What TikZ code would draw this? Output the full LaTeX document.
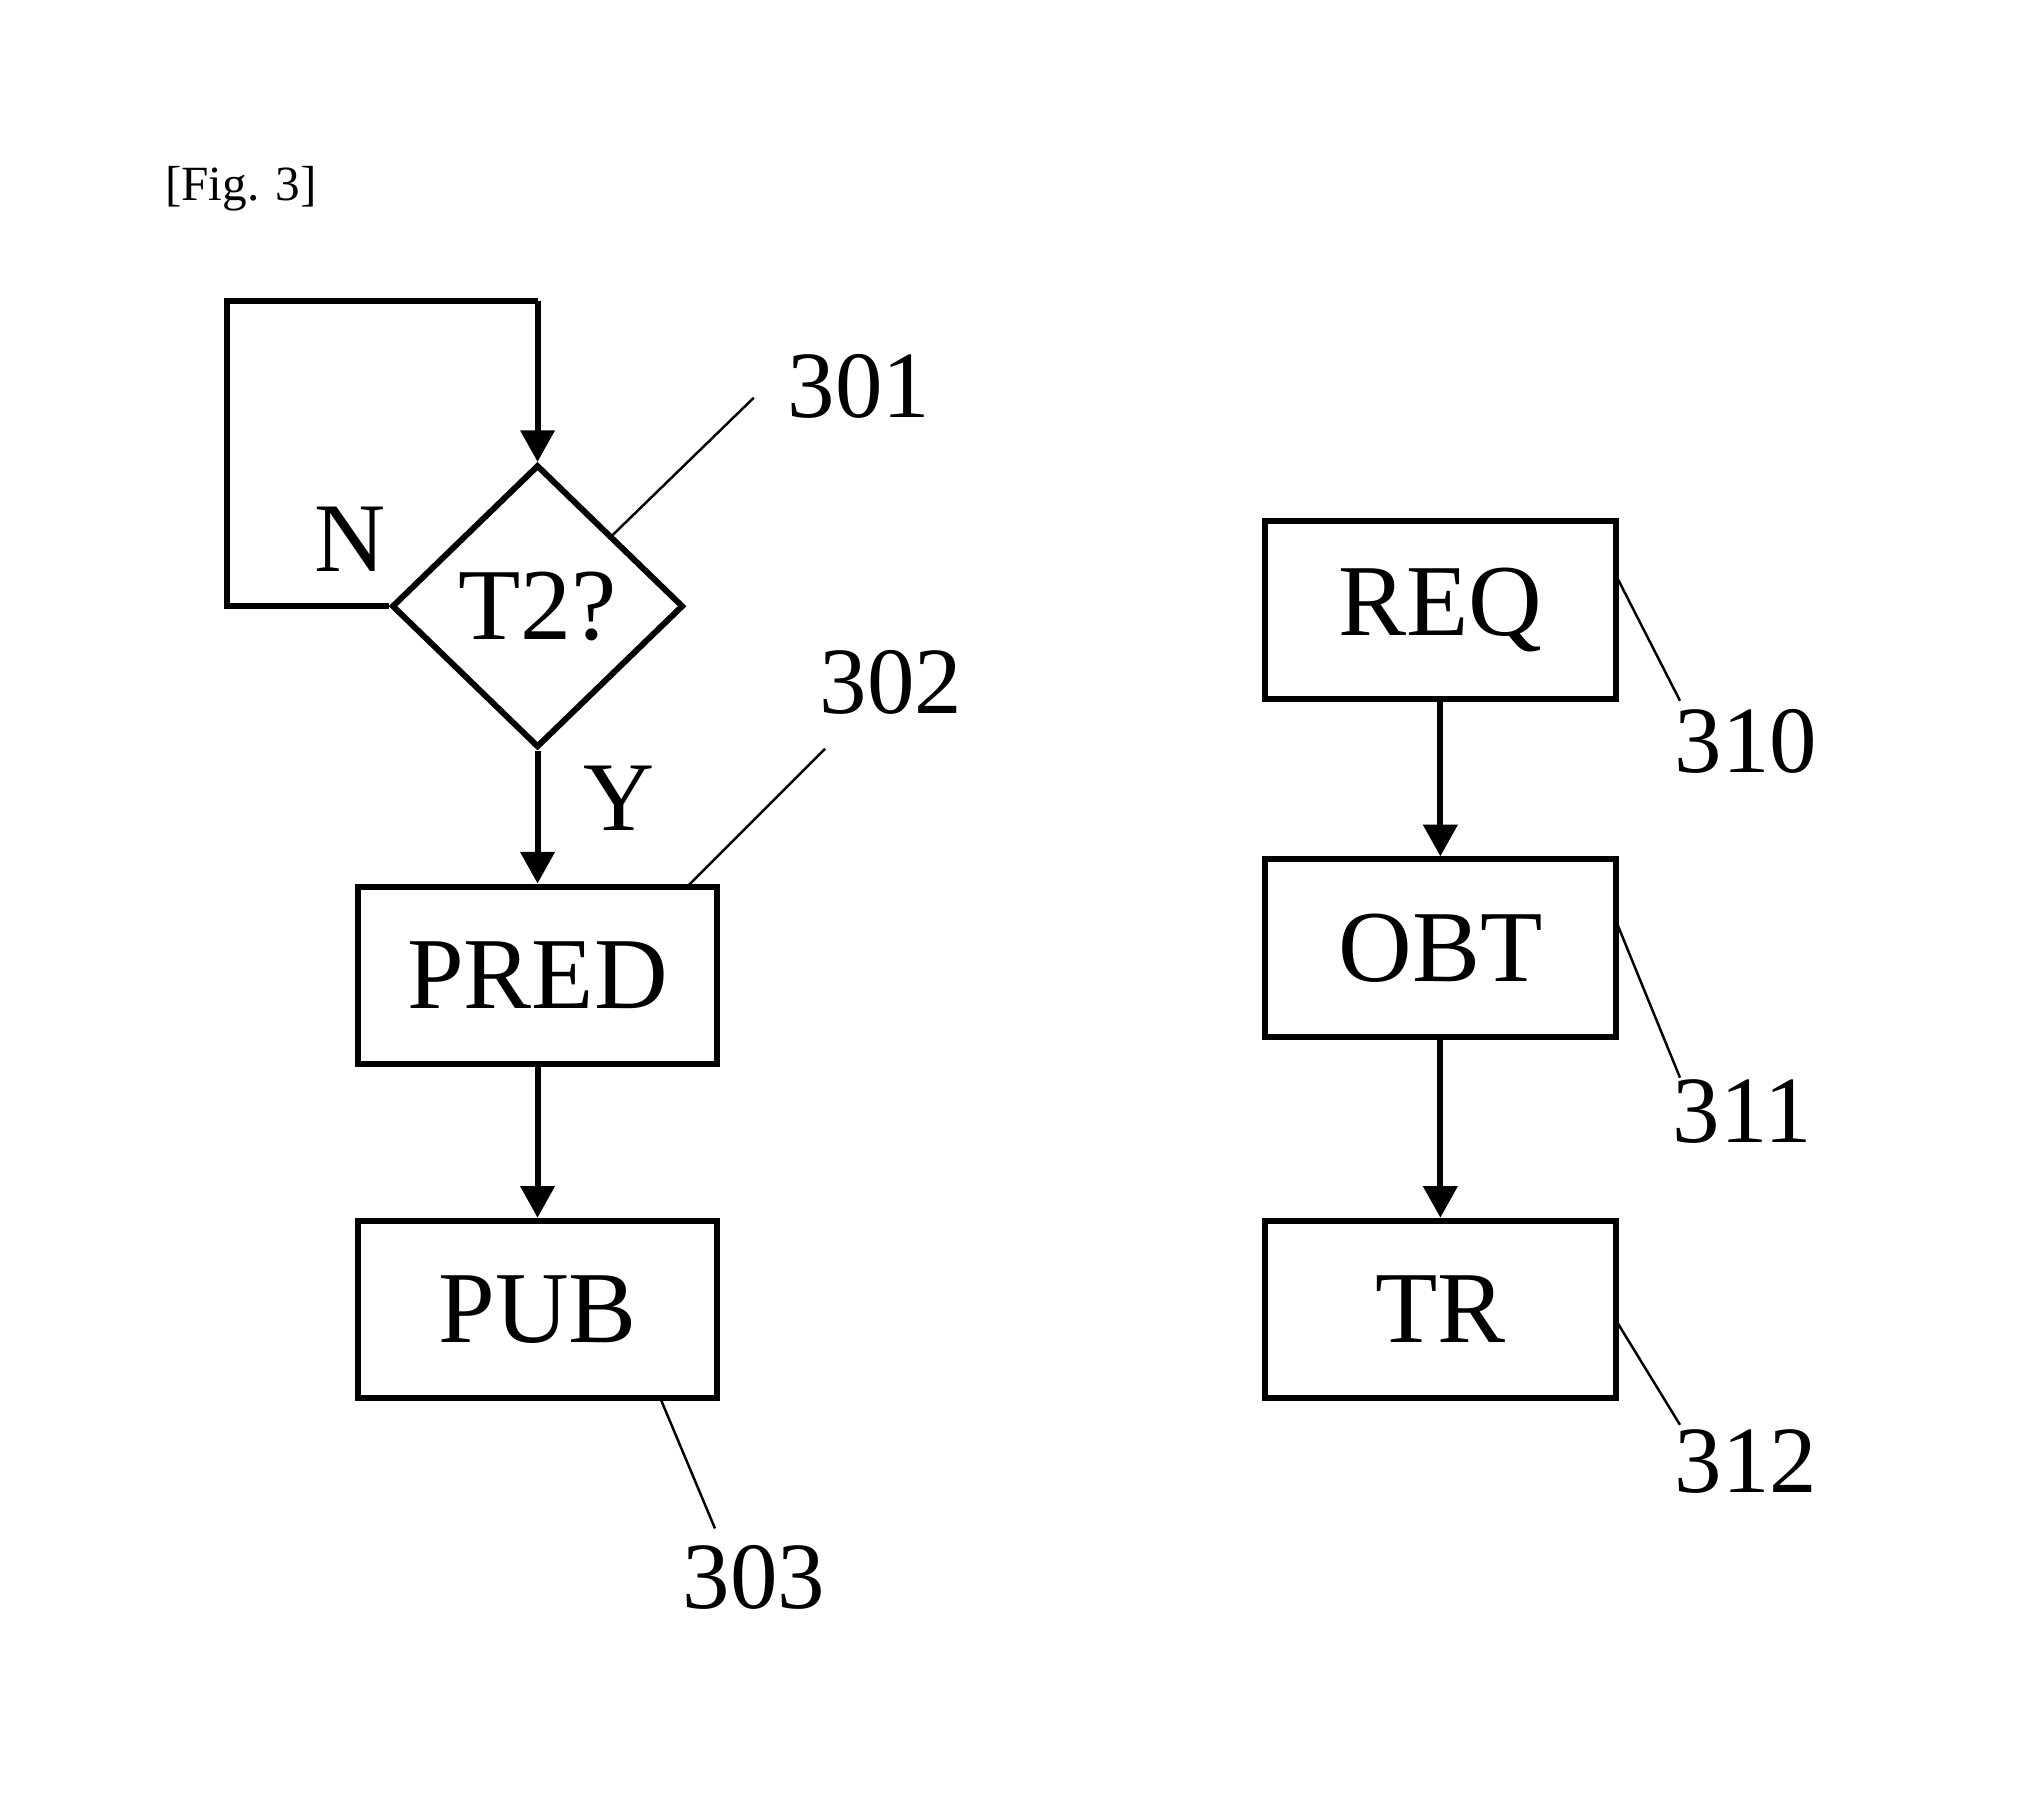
\documentclass[tikz,border=0pt]{standalone}
\usepackage{fontspec}
\setmainfont{Liberation Serif}
\usetikzlibrary{shapes.geometric,arrows.meta}
\begin{document}
\begin{tikzpicture}[x=0.0259cm,y=-0.0259cm,
  box/.style={draw,line width=3.4pt,minimum width=7.17cm,minimum height=3.55cm,inner sep=0pt,font=\fontsize{58}{60}\selectfont},
  rbox/.style={box,minimum width=7.02cm},
  dia/.style={draw,diamond,line width=3.4pt,minimum width=5.83cm,minimum height=5.65cm,inner sep=0pt,font=\fontsize{58}{60}\selectfont},
  flow/.style={line width=3.4pt,-{Triangle[length=18pt,width=19pt]}},
  lead/.style={line width=1.4pt},
  num/.style={font=\fontsize{54}{56}\selectfont,inner sep=0pt},
  yn/.style={font=\fontsize{56}{58}\selectfont,inner sep=0pt}]
\useasboundingbox (0,0) rectangle (1568,1386);
\node[font=\fontsize{28}{30}\selectfont,inner sep=0pt] (fig) at (186,146) {[Fig. 3]};
\node[dia] (t2) at (415,468) {T2?};
\node[box] (pred) at (415,753) {PRED};
\node[box] (pub) at (415,1011) {PUB};
\node[rbox] (req) at (1112,471) {REQ};
\node[rbox] (obt) at (1112,732) {OBT};
\node[rbox] (tr) at (1112,1011) {TR};
\coordinate (l1) at (175,468);
\coordinate (l2) at (175,232);
\coordinate (l3) at (415,232);
\draw[line width=3.4pt,line join=miter] (t2.west) -- (l1) -- (l2) -- (l3);
\draw[flow] (l3) -- (t2.north);
\draw[flow] (t2.south) -- (pred.north);
\draw[flow] (pred.south) -- (pub.north);
\draw[flow] (req.south) -- (obt.north);
\draw[flow] (obt.south) -- (tr.north);
\node[yn] (n) at (270,416) {N};
\node[yn] (y) at (478,616) {Y};
\node[num] (n301) at (663,298) {301};
\node[num] (n302) at (688,527) {302};
\node[num] (n303) at (582,1218) {303};
\node[num] (n310) at (1348,572) {310};
\node[num] (n311) at (1345,858) {311};
\node[num] (n312) at (1348,1128) {312};
\coordinate (c301) at (582,307);
\coordinate (c302) at (637,578);
\coordinate (c303) at (552,1180);
\coordinate (c310) at (1297,541);
\coordinate (c311) at (1297,832);
\coordinate (c312) at (1297,1100);
\draw[lead] (472,414) -- (c301);
\draw[lead] (530,685) -- (c302);
\draw[lead] (510,1080) -- (c303);
\draw[lead] (1248,445) -- (c310);
\draw[lead] (1248,712) -- (c311);
\draw[lead] (1248,1020) -- (c312);
\end{tikzpicture}
\end{document}
